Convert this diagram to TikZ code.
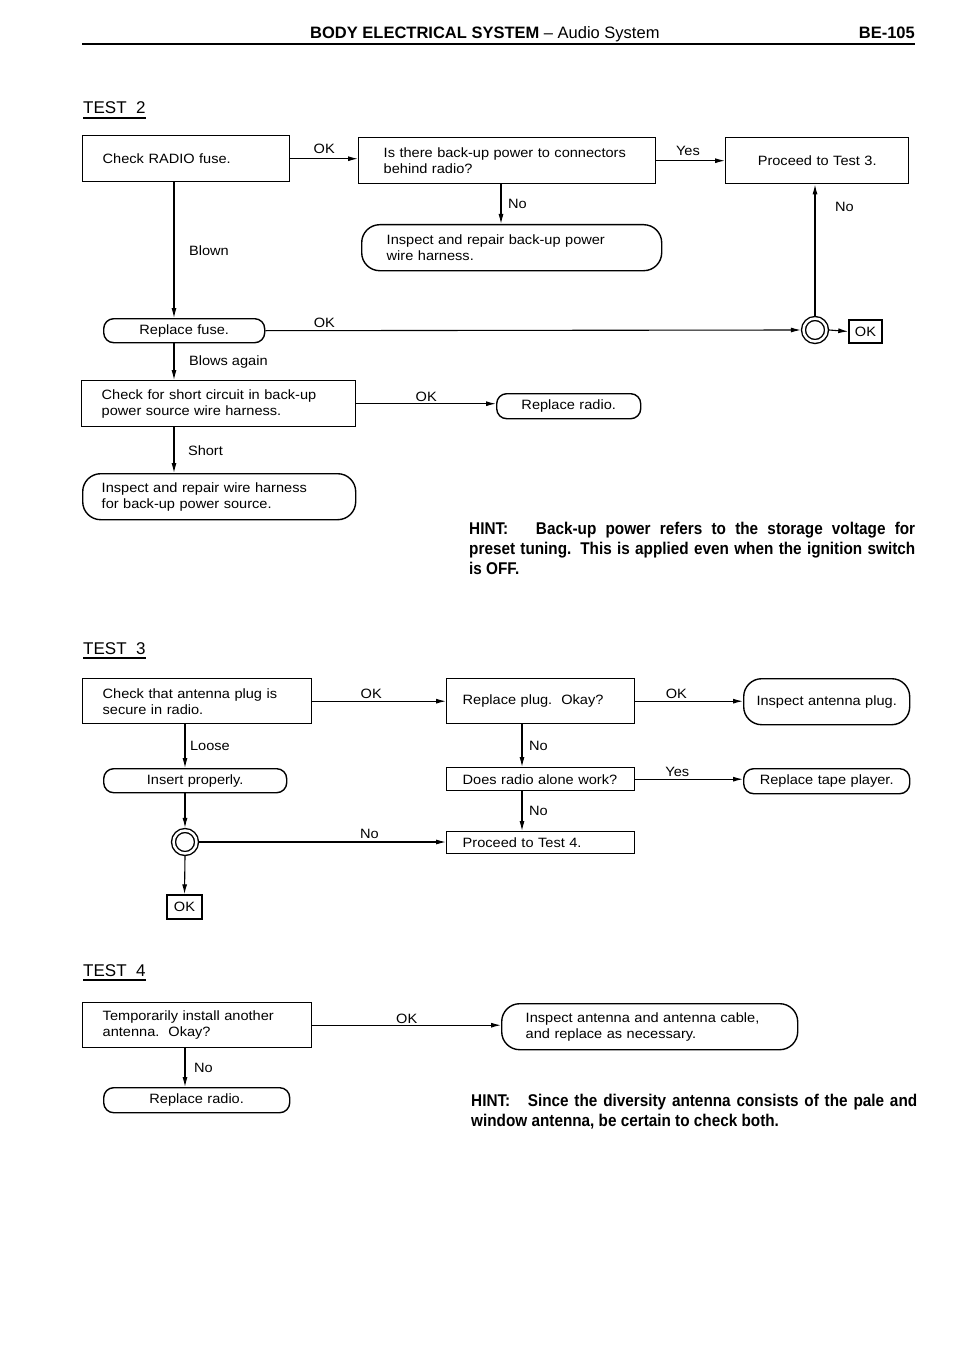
\documentclass[tikz,border=0pt]{standalone}
\usepackage{fontspec}
\setmainfont{Liberation Sans}[FakeStretch=1.08]
\newfontfamily\headfont{Liberation Sans}
\newfontfamily\hintfont{Liberation Sans}[FakeStretch=0.9]
\usetikzlibrary{arrows.meta,positioning}
\newcommand{\boxfont}{\fontsize{13.5}{16}\selectfont}

\begin{document}
\begin{tikzpicture}[x=1pt, y=-1pt, font=\boxfont,
    box/.style={rectangle, draw, line width=1.4pt, anchor=north west, inner ysep=0pt, align=left, minimum height=46pt},
    stad/.style={box, rounded corners=#1}, stad/.default=10pt,
    conn/.style={line width=1.1pt, -{Latex[length=10pt,width=5pt]}},
    lbl/.style={inner sep=1.5pt},
    junction/.style={circle, draw, double, line width=1.4pt, double distance=2.5pt, minimum size=23pt, inner sep=0pt, outer sep=2.6pt},
    okbox/.style={rectangle, draw, line width=1.4pt, minimum width=33pt, minimum height=23pt, inner sep=0pt},
    hint/.style={anchor=north west, inner sep=0pt, text width=446pt, align=justify, font=\hintfont\bfseries\fontsize{17}{20}\selectfont},
    testlbl/.style={anchor=base west, inner sep=0pt, font=\headfont\fontsize{17}{20}\selectfont}]
	\useasboundingbox (0,0) rectangle (960,1356);

	% page head
	\node[anchor=base west, inner sep=0pt, font=\headfont\fontsize{16.5}{20}\selectfont] (title) at (310,39) {\textbf{BODY ELECTRICAL SYSTEM} – Audio System};
	\node[anchor=base east, inner sep=0pt, font=\headfont\bfseries\fontsize{16.5}{20}\selectfont] (page) at (915,39) {BE-105};
	\draw[line width=2.8pt] (82,44) -- (915,44);

	% test 2
	\node[testlbl] (t2) at (83,114) {TEST\ \ 2};
	\draw[line width=1.3pt] ([yshift=-4pt]t2.base west) -- ([yshift=-4pt]t2.base east);

	\node[box, inner xsep=20pt, text width=167pt] (fuse) at (82,135) {Check RADIO fuse.};
	\node[box, inner xsep=25pt, text width=247pt] (backup) at (358,137) {Is there back-up power to connectors\\behind radio?};
	\node[box, inner xsep=10pt, text width=163pt, align=center] (next3) at (725,137) {Proceed to Test 3.};
	\node[stad=18pt, inner xsep=25pt, text width=250pt] (fixbk) at (361,224) {Inspect and repair back-up power\\wire harness.};
	\node[stad, minimum height=24pt, inner xsep=10pt, text width=141pt, align=center] (newfuse) at (103,318) {Replace fuse.};
	\node[junction] (jA) at (815,330) {};
	\node[okbox] (okA) at (865.5,331.5) {OK};
	\node[box, inner xsep=20pt, text width=234pt] (chkshort) at (81,380) {Check for short circuit in back-up\\power source wire harness.};
	\node[stad, minimum height=25pt, inner xsep=10pt, text width=124pt, align=center] (newradio) at (496,393) {Replace radio.};
	\node[stad=18pt, inner xsep=19pt, text width=235pt] (fixwh) at (82,473) {Inspect and repair wire harness\\for back-up power source.};
	\node[hint] (hintA) at (469,522) {HINT:\ \ \ Back-up power refers to the storage voltage for\linebreak preset tuning. This is applied even when the ignition switch\linebreak is OFF.};

	\coordinate (colA) at (174,0);
	\coordinate (colB) at (501,0);
	\draw[conn] (fuse.east) -- node[lbl, above=3pt] (okl1) {OK} (fuse.east -| backup.west);
	\draw[conn] (backup.east) -- node[lbl, above=3pt, pos=0.46] (yesl1) {Yes} (backup.east -| next3.west);
	\draw[conn] (backup.south -| colB) -- node[lbl, right=5pt] (nol1) {No} (fixbk.north -| colB);
	\draw[conn] (fuse.south -| colA) -- node[lbl, right=13pt] (blownl) {Blown} (newfuse.north -| colA);
	\draw[conn] (newfuse.east) -- node[lbl, above=1pt, pos=0.11] (okl2) {OK} (jA.west);
	\draw[conn] (jA.north) -- node[lbl, right=18pt, pos=0.83] (nol2) {No} (jA.north |- next3.south);
	\draw[conn] (jA.east) -- (okA.west);
	\draw[conn] (newfuse.south -| colA) -- node[lbl, right=13pt] (againl) {Blows again} (chkshort.north -| colA);
	\draw[conn] (chkshort.east) -- node[lbl, above=0pt] (okl3) {OK} (chkshort.east -| newradio.west);
	\draw[conn] (chkshort.south -| colA) -- node[lbl, right=12pt] (shortl) {Short} (fixwh.north -| colA);

	% test 3
	\node[testlbl] (t3) at (83,654) {TEST\ \ 3};
	\draw[line width=1.3pt] ([yshift=-4pt]t3.base west) -- ([yshift=-4pt]t3.base east);

	\node[box, minimum height=45pt, inner xsep=20pt, text width=189pt] (plug) at (82,678) {Check that antenna plug is\\secure in radio.};
	\node[box, minimum height=45pt, inner xsep=16pt, text width=156pt] (newplug) at (446,678) {Replace plug.\ \ Okay?};
	\node[stad=18pt, inner xsep=10pt, text width=146pt, align=center] (chkplug) at (743,678) {Inspect antenna plug.};
	\node[stad, minimum height=24pt, inner xsep=10pt, text width=163pt, align=center] (insert) at (103,768) {Insert properly.};
	\node[box, minimum height=23pt, inner xsep=16pt, text width=156pt] (alone) at (446,767) {Does radio alone work?};
	\node[stad, minimum height=25pt, inner xsep=10pt, text width=146pt, align=center] (tape) at (743,768) {Replace tape player.};
	\node[box, minimum height=22pt, inner xsep=16pt, text width=156pt] (next4) at (446,831) {Proceed to Test 4.};
	\node[junction] (jB) at (185,842) {};
	\node[okbox, minimum width=35pt, minimum height=24pt] (okB) at (184.5,907) {OK};

	\coordinate (colC) at (185,0);
	\coordinate (colD) at (522,0);
	\draw[conn] (plug.east) -- node[lbl, above=1pt, pos=0.44] (okl4) {OK} (plug.east -| newplug.west);
	\draw[conn] (newplug.east) -- node[lbl, above=1pt, pos=0.38] (okl5) {OK} (newplug.east -| chkplug.west);
	\draw[conn] (plug.south -| colC) -- node[lbl, right=3pt] (loosel) {Loose} (insert.north -| colC);
	\draw[conn] (newplug.south -| colD) -- node[lbl, right=5pt] (nol3) {No} (alone.north -| colD);
	\draw[conn] (alone.east) -- node[lbl, above=1pt, pos=0.39] (yesl2) {Yes} (alone.east -| tape.west);
	\draw[conn] (alone.south -| colD) -- node[lbl, right=5pt] (nol4) {No} (next4.north -| colD);
	\draw[conn] (insert.south -| colC) -- (jB.north);
	\draw[conn] (jB.east) -- node[lbl, above=1pt, pos=0.69] (nol5) {No} (jB.east -| next4.west);
	\draw[conn] (jB.south) -- (okB.north);

	% test 4
	\node[testlbl] (t4) at (83,976) {TEST\ \ 4};
	\draw[line width=1.3pt] ([yshift=-4pt]t4.base west) -- ([yshift=-4pt]t4.base east);

	\node[box, minimum height=45pt, inner xsep=20pt, text width=189pt] (tmpant) at (82,1002) {Temporarily install another\\antenna.\ \ Okay?};
	\node[stad=18pt, inner xsep=24pt, text width=248pt] (chkant) at (501,1003) {Inspect antenna and antenna cable,\\and replace as necessary.};
	\node[stad, minimum height=25pt, inner xsep=10pt, text width=166pt, align=center] (radio4) at (103,1087) {Replace radio.};
	\node[hint] (hintB) at (471,1094) {HINT:\ \ \ Since the diversity antenna consists of the pale and\linebreak window antenna, be certain to check both.};

	\draw[conn] (tmpant.east) -- node[lbl, above=0pt] (okl6) {OK} (tmpant.east -| chkant.west);
	\draw[conn] (tmpant.south -| colC) -- node[lbl, right=7pt] (nol6) {No} (radio4.north -| colC);
\end{tikzpicture}
\end{document}
